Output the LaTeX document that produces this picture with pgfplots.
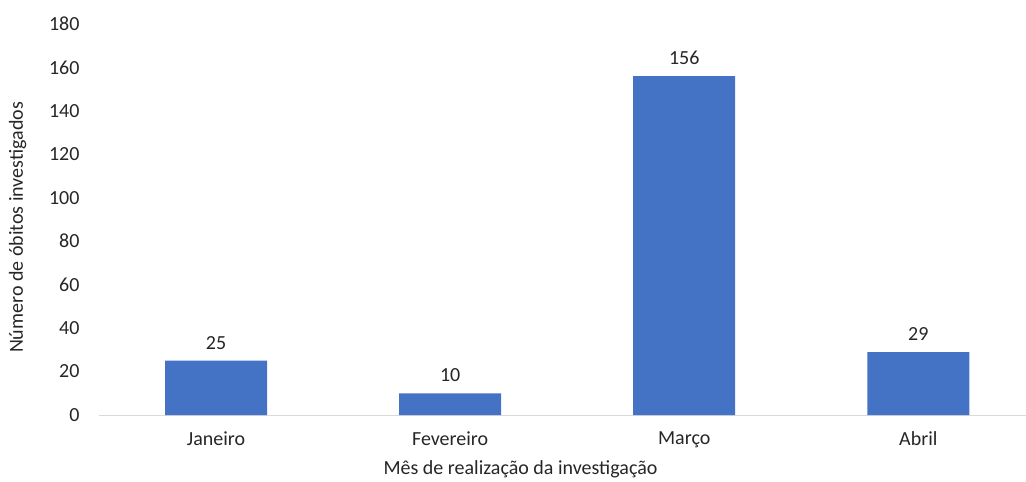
\documentclass[border=0pt]{standalone}
\usepackage{fontspec}
\setmainfont{Carlito}
\usepackage{pgfplots}
\pgfplotsset{compat=1.18}
\definecolor{barblue}{HTML}{4472C4}
\definecolor{axisgray}{HTML}{D9D9D9}
\definecolor{txt}{HTML}{262626}

\begin{document}
\begin{tikzpicture}
\begin{axis}[
    scale only axis,
    width=927pt,
    height=391pt,
    ybar,
    bar width=102pt,
    xmin=-0.5, xmax=3.46,
    ymin=0, ymax=180,
    ytick={0,20,...,180},
    xtick=data,
    xticklabels={Janeiro, Fevereiro, Março, Abril},
    axis x line*=bottom,
    axis y line*=left,
    x axis line style={axisgray, line width=1pt, -},
    y axis line style={draw=none},
    xtick style={draw=none},
    ytick style={draw=none},
    font=\fontsize{20}{24}\selectfont,
    /pgf/number format/assume math mode=true,
    tick label style={text=txt, font=\fontsize{20}{24}\selectfont},
    yticklabel style={xshift=-16pt},
    xticklabel style={yshift=-9pt},
    xlabel={Mês de realização da investigação},
    ylabel={Número de óbitos investigados},
    label style={text=txt, font=\fontsize{20}{24}\selectfont},
    xlabel style={yshift=-8pt, xshift=-42pt, inner sep=1pt},
    ylabel style={yshift=16pt, xshift=-8pt},
    nodes near coords,
    every node near coord/.append style={text=txt, font=\fontsize{20}{24}\selectfont, yshift=8pt},
]
\addplot[fill=barblue, draw=none] coordinates {(0,25) (1,10) (2,156) (3,29)};
\end{axis}
\pgfresetboundingbox
\path (current axis.south west) ++(-99pt,-67pt) rectangle ++(1026pt,482pt);
\end{tikzpicture}
\end{document}
